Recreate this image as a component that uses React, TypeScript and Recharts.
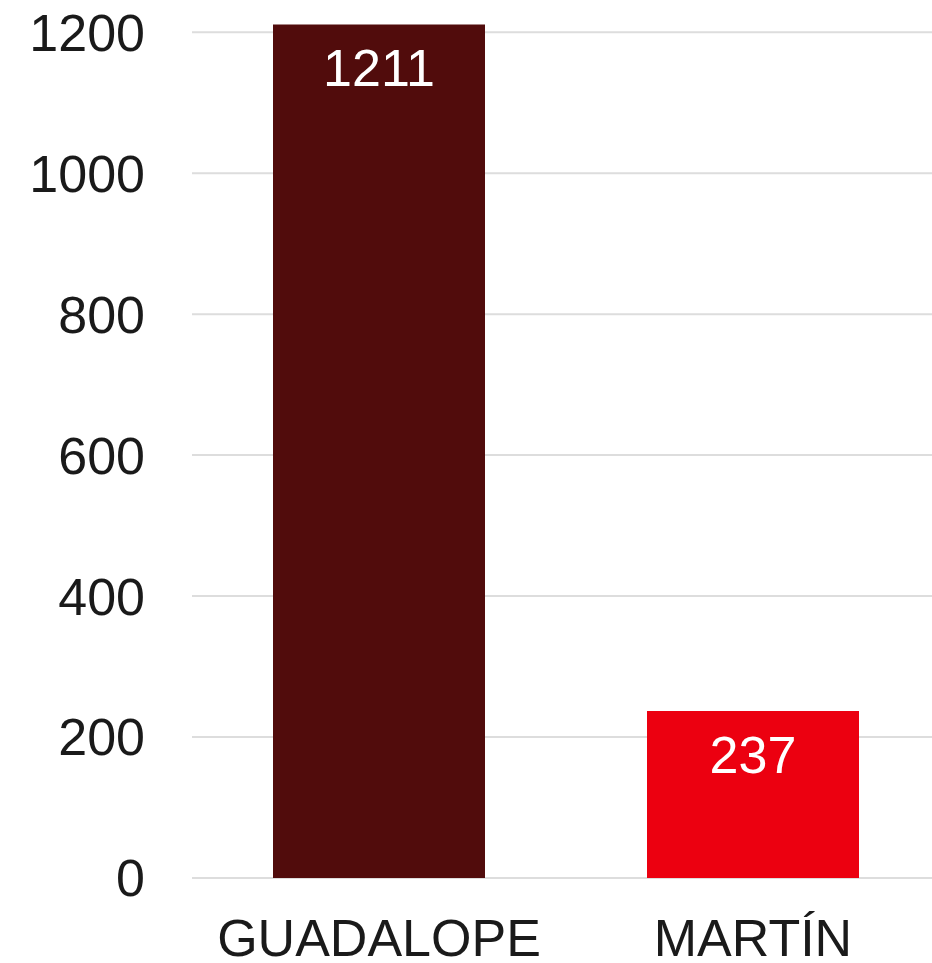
import { BarChart, Bar, XAxis, YAxis, CartesianGrid, Cell, LabelList } from 'recharts';

const categories = ['GUADALOPE', 'MARTÍN'];
const values = [1211, 237];
const barColors = ['#510c0c', '#ec0010'];
const yTicks = [0, 200, 400, 600, 800, 1000, 1200];

const data = categories.map((name, i) => ({ name, value: values[i] }));

const FONT = 'Liberation Sans, Arial, sans-serif';

function YTick(props: any) {
  const { x, y, payload } = props;
  return (
    <text x={x - 39} y={y} dy="0.355em" textAnchor="end" fontFamily={FONT} fontSize={52} fill="#1a1a1a">
      {payload.value}
    </text>
  );
}

function XTick(props: any) {
  const { x, y, payload } = props;
  return (
    <text x={x} y={y + 70} textAnchor="middle" fontFamily={FONT} fontSize={52} fill="#1a1a1a">
      {payload.value}
    </text>
  );
}

function ValueLabel(props: any) {
  const { x, y, width, value } = props;
  return (
    <text x={x + width / 2} y={y + 62} textAnchor="middle" fontFamily={FONT} fontSize={52} fill="#ffffff">
      {value}
    </text>
  );
}

export default function App() {
  return (
    <div style={{ position: 'absolute', left: 0, top: 0, width: 932, height: 963, overflow: 'hidden', background: '#fff' }}>
      <BarChart width={940} height={963} data={data} margin={{ top: 4, right: 0, left: 0, bottom: 0 }}>
        <CartesianGrid vertical={false} stroke="#dddddd" strokeWidth={2} syncWithTicks />
        <XAxis dataKey="name" axisLine={false} tickLine={false} height={85} tick={<XTick />} interval={0} />
        <YAxis
          domain={[0, 1240]}
          ticks={yTicks}
          width={192}
          axisLine={false}
          tickLine={false}
          tick={<YTick />}
        />
        <Bar dataKey="value" barSize={212} isAnimationActive={false}>
          {data.map((d, i) => (
            <Cell key={d.name} fill={barColors[i]} />
          ))}
          <LabelList dataKey="value" content={<ValueLabel />} />
        </Bar>
      </BarChart>
    </div>
  );
}
